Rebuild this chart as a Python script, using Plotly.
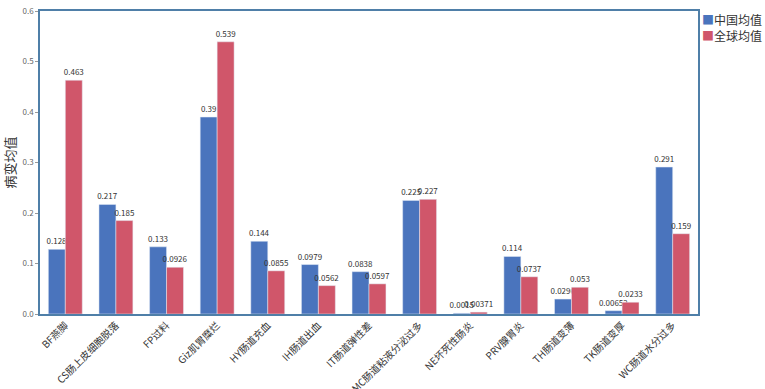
import plotly.graph_objects as go

categories = ["BF燕脚", "CS肠上皮细胞脱落", "FP过料", "Giz肌胃糜烂", "HY肠道充血", "IH肠道出血",
              "IT肠道弹性差", "MC肠道粘液分泌过多", "NE坏死性肠炎", "PRV腺胃炎", "TH肠道变薄",
              "TK肠道变厚", "WC肠道水分过多"]
china = [0.128, 0.217, 0.133, 0.39, 0.144, 0.0979, 0.0838, 0.225, 0.0015, 0.114, 0.0296, 0.00652, 0.291]
world = [0.463, 0.185, 0.0926, 0.539, 0.0855, 0.0562, 0.0597, 0.227, 0.00371, 0.0737, 0.053, 0.0233, 0.159]
series_names = ["中国均值", "全球均值"]
colors = ["#4a74bd", "#d0566a"]

fig = go.Figure()
for name, vals, col in zip(series_names, [china, world], colors):
    fig.add_trace(go.Bar(name=name, x=categories, y=vals, marker_color=col,
                         text=[str(v) for v in vals], textposition="outside",
                         textfont=dict(size=8, color="#333"), cliponaxis=False,
                         showlegend=False))

for i, (name, col) in enumerate(zip(series_names, colors)):
    fig.add_annotation(xref="paper", yref="paper", x=1.003, y=1.005 - i * 0.052,
                       xanchor="left", yanchor="top", showarrow=False,
                       text=f'<span style="color:{col}">■</span>{name}',
                       font=dict(size=12, color="#333"))

fig.update_layout(
    width=765, height=389,
    margin=dict(l=40, r=67, t=11, b=75),
    paper_bgcolor="white", plot_bgcolor="white",
    barmode="group", bargap=0.33, bargroupgap=0,
    font=dict(family="Noto Sans CJK SC", color="#333"),
    uniformtext=dict(minsize=7, mode="show"),
    xaxis=dict(tickangle=-45, tickfont=dict(size=10, color="#333"), showline=True,
               linecolor="#4f7fa8", linewidth=1.5, mirror=True, ticks="", automargin=False),
    yaxis=dict(range=[0, 0.6], dtick=0.1, tickformat=".1f", showgrid=False,
               tickfont=dict(size=8, color="#666"), ticks="outside", ticklen=3,
               tickcolor="#999", showline=True, linecolor="#4f7fa8", linewidth=1.5,
               mirror=True, zeroline=False, automargin=False,
               title=dict(text="病变均值", font=dict(size=13, color="#333"), standoff=6)),
)
fig.write_html("out.html", config={"displayModeBar": False},
               post_script="document.body.style.margin='0';document.body.style.overflow='hidden';")
